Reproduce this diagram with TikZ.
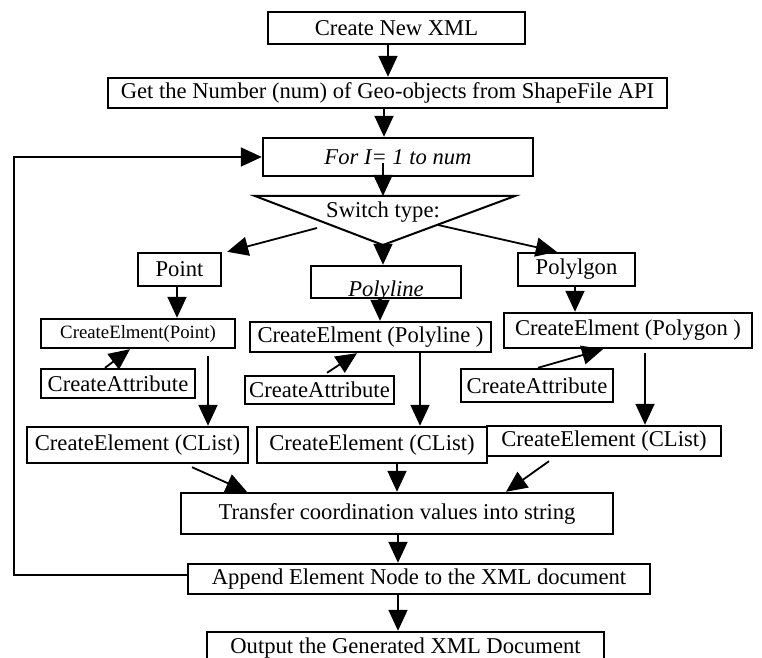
\documentclass[tikz,border=0pt]{standalone}
\usepackage{fontspec}
\setmainfont{Liberation Serif}[ItalicFont={Liberation Serif Italic}]
\usetikzlibrary{arrows.meta}

\begin{document}
\begin{tikzpicture}[
        x=0.5pt, y=-0.5pt,
        box/.style={
          rectangle, draw=black, line width=1.2pt,
          inner sep=0pt, align=center,
          font=\fontsize{11.3}{13}\selectfont
        },
        smallbox/.style={
          box, font=\fontsize{9.4}{11}\selectfont
        },
        arr/.style={-{Triangle[length=10.5pt,width=9.5pt]}, line width=0.9pt}
      ]
      \useasboundingbox (0,0) rectangle (762,658);

      \node[box, minimum width=128.5pt, minimum height=16pt] (new) at (396.5,28) {Create New XML};
      \node[box, minimum width=279.5pt, minimum height=15pt] (count) at (387.5,93)
        {Get the Number (num) of Geo-objects from ShapeFile API};
      \node[box, minimum width=135pt, minimum height=19pt, font=\fontsize{11.3}{13}\selectfont\itshape]
        (loop) at (398,157) {For I= 1 to num};

      \coordinate (tl) at (255,196);
      \coordinate (tr) at (515,196);
      \coordinate (apex) at (383,245);
      \coordinate (swtop) at (383,196);
      \coordinate (swl) at (317,228);
      \coordinate (swr) at (438,225);
      \draw[line width=1pt] (tl) -- (tr) -- (apex) -- cycle;
      \node[font=\fontsize{11.3}{13}\selectfont, inner sep=0pt] (switch) at (383,212) {Switch type:};

      \node[box, minimum width=41.5pt, minimum height=16.5pt] (point) at (179.5,269.5) {Point};
      \node[box, minimum width=75pt, minimum height=16pt] (polyline) at (386,282)
        {\raisebox{-4.5pt}[7.7pt][2.5pt]{\itshape Polyline}};
      \node[box, minimum width=58.5pt, minimum height=16.5pt] (polygon) at (576.5,269.5) {Polylgon};

      \node[smallbox, minimum width=97pt, minimum height=14.5pt] (ptelem) at (138,333.5) {CreateElment(Point)};
      \node[box, minimum width=120.5pt, minimum height=15pt] (plelem) at (370.5,337) {CreateElment (Polyline )};
      \node[box, minimum width=124pt, minimum height=17.5pt] (pgelem) at (628,330.5) {CreateElment (Polygon )};

      \node[box, minimum width=77pt, minimum height=14.5pt] (ptattr) at (118,383.5) {CreateAttribute};
      \node[box, minimum width=74.5pt, minimum height=14pt] (plattr) at (319.5,390) {CreateAttribute};
      \node[box, minimum width=76pt, minimum height=16.5pt] (pgattr) at (537,385.5) {CreateAttribute};

      \node[box, minimum width=110.5pt, minimum height=18pt] (ptlist) at (137.5,445) {CreateElement (CList)};
      \node[box, minimum width=115pt, minimum height=18pt] (pllist) at (372,445) {CreateElement (CList)};
      \node[box, minimum width=117pt, minimum height=15pt] (pglist) at (604,441) {CreateElement (CList)};

      \node[box, minimum width=216pt, minimum height=20.5pt] (transfer) at (397,513.5)
        {Transfer coordination values into string};
      \node[box, minimum width=231pt, minimum height=15pt] (append) at (419,579)
        {Append Element Node to the XML document};
      \node[box, minimum width=198.5pt, minimum height=16pt] (output) at (405.5,648)
        {Output the Generated XML Document};
      \coordinate (back) at (14,575);

      \draw[arr] ([xshift=-4.25pt]new.south) -- ([xshift=-4.25pt]new.south |- count.north);
      \draw[arr] ([xshift=-1.75pt]count.south) -- ([xshift=-1.75pt]count.south |- loop.north);
      \draw[arr] ([xshift=-7.5pt,yshift=-3pt]loop.center) -- (swtop);
      \draw[arr] (swl) -- ([xshift=2.5pt]point.north east);
      \draw[arr] (apex) -- (apex |- polyline.north);
      \draw[arr] (swr) -- ([xshift=20pt]polygon.north west);

      \draw[arr] ([xshift=-1.25pt]point.south) -- ([xshift=-1.25pt]point.south |- ptelem.north);
      \draw[arr] ([xshift=-6.5pt]ptattr.north) -- ([xshift=-4pt]ptelem.south);
      \draw[arr] ([xshift=35pt,yshift=-3.5pt]ptelem.south) -- ([xshift=35pt]ptelem.south |- ptlist.north);

      \draw[arr] ([xshift=-3pt]polyline.south) -- ([xshift=-3pt]polyline.south |- plelem.north);
      \draw[arr] ([xshift=3.75pt,yshift=1pt]plattr.north) -- ([xshift=-6.75pt]plelem.south);
      \draw[arr] ([xshift=24.75pt]plelem.south) -- ([xshift=24.75pt]plelem.south |- pllist.north);

      \draw[arr] ([xshift=-0.75pt]polygon.south) -- ([xshift=-0.75pt]polygon.south |- pgelem.north);
      \draw[arr] ([xshift=0.5pt]pgattr.north) -- ([xshift=-12.5pt]pgelem.south);
      \draw[arr] ([xshift=8.5pt,yshift=-2pt]pgelem.south) -- ([xshift=8.5pt]pgelem.south |- pglist.north);

      \draw[arr] ([xshift=27.25pt,yshift=-1.5pt]ptlist.south) -- ([xshift=-75pt]transfer.north);
      \draw[arr] ([xshift=12.5pt]pllist.south) -- ([xshift=12.5pt]pllist.south |- transfer.north);
      \draw[arr] ([xshift=-27.5pt,yshift=-2pt]pglist.south) -- ([xshift=54.5pt]transfer.north);

      \draw[arr] ([xshift=0.5pt]transfer.south) -- ([xshift=0.5pt]transfer.south |- append.north);
      \draw[arr] ([xshift=-10.5pt]append.south) -- ([xshift=-10.5pt]append.south |- output.north);
      \draw[arr] ([yshift=2pt]append.west) -- (back) |- (loop.west);
    \end{tikzpicture}
\end{document}
